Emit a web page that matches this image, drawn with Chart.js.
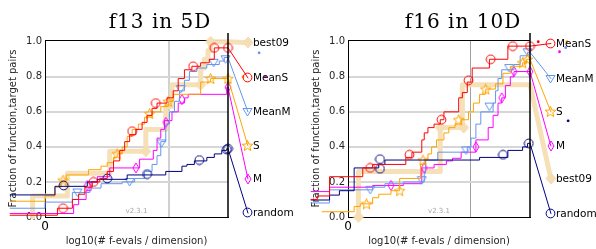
<!DOCTYPE html>
<html><head><meta charset="utf-8">
<script src="https://cdn.jsdelivr.net/npm/chart.js@4.4.1/dist/chart.umd.min.js"></script>
<style>
html,body{margin:0;padding:0;background:#fff;}
body{width:596px;height:249px;position:relative;overflow:hidden;}
canvas{position:absolute;top:0;}
.title{position:absolute;top:11px;font-family:'DejaVu Serif',serif;font-size:20px;line-height:20px;letter-spacing:1px;color:#000;white-space:nowrap;transform:translateX(-50%);}
</style></head><body>
<canvas id="c1" width="298" height="249" style="left:0"></canvas>
<canvas id="c2" width="298" height="249" style="left:298px"></canvas>
<div class="title" style="left:160px">f13 in 5D</div>
<div class="title" style="left:463px">f16 in 10D</div>
<script>
// ---------- shared axis data ----------
const seriesNames = ['best09','MeanS','MeanM','S','M','random'];
const yTickValues = [0,0.2,0.4,0.6,0.8,1.0];
const yTickLabels = ['0.0','0.2','0.4','0.6','0.8','1.0'];
const xTickValues = [0,1];
const xTickLabels = ['0',''];
const yTitle = 'Fraction of function,target pairs';
const xTitle = 'log10(# f-evals / dimension)';
const versionText = 'v2.3.1';

// ---------- f13 in 5D ----------
const f13_budget = 1.47;
const f13_labelX = 1.63;
const f13_labelY = [0.994, 0.794, 0.6, 0.406, 0.217, 0.023]; // best09, MeanS, MeanM, S, M, random
const f13_best09 = [[-0.1,0],[-0.1,0.12],[0.18,0.25],[0.52,0.375],[0.81,0.5],[0.97,0.63],[1.02,0.755],[1.25,0.85],[1.28,0.9],[1.31,0.95],[1.33,1.0],[1.47,1.0]];
const f13_best09_marks = [[0.81,0.375],[1.25,0.755],[1.33,1.0]];
const f13_MeanS = [[-0.28,0.01],[0.1,0.05],[0.22,0.1],[0.27,0.13],[0.32,0.17],[0.38,0.2],[0.44,0.22],[0.5,0.26],[0.55,0.32],[0.6,0.38],[0.64,0.43],[0.68,0.47],[0.73,0.5],[0.78,0.54],[0.82,0.58],[0.86,0.62],[0.9,0.65],[0.98,0.68],[1.03,0.72],[1.07,0.79],[1.12,0.84],[1.18,0.86],[1.25,0.88],[1.32,0.9],[1.36,0.965],[1.47,0.965]];
const f13_MeanS_marks = [[0.145,0.05],[0.39,0.2],[0.7,0.49],[0.89,0.65],[1.19,0.86],[1.36,0.965],[1.47,0.965]];
const f13_MeanM = [[-0.28,0.05],[0,0.085],[0.22,0.14],[0.36,0.165],[0.45,0.19],[0.62,0.2],[0.72,0.22],[0.8,0.26],[0.86,0.3],[0.9,0.35],[0.93,0.43],[0.97,0.53],[1.0,0.6],[1.04,0.66],[1.08,0.72],[1.12,0.78],[1.16,0.83],[1.22,0.85],[1.3,0.87],[1.4,0.89],[1.44,0.91],[1.47,0.91]];
const f13_MeanM_marks = [[0.26,0.14],[0.68,0.2],[0.935,0.42],[1.09,0.73],[1.355,0.88],[1.45,0.9]];
const f13_S = [[-0.28,0.09],[0,0.12],[0.08,0.17],[0.13,0.21],[0.17,0.24],[0.35,0.27],[0.45,0.29],[0.5,0.31],[0.55,0.34],[0.58,0.36],[0.62,0.4],[0.66,0.46],[0.7,0.5],[0.75,0.53],[0.8,0.57],[0.86,0.6],[0.93,0.63],[0.99,0.66],[1.03,0.7],[1.25,0.77],[1.33,0.79],[1.47,0.79]];
const f13_S_marks = [[0.145,0.21],[0.58,0.36],[0.84,0.59],[0.99,0.66],[1.33,0.79],[1.47,0.79]];
const f13_M = [[-0.28,0.02],[0.23,0.07],[0.27,0.1],[0.33,0.15],[0.37,0.2],[0.42,0.23],[0.52,0.28],[0.76,0.33],[0.87,0.38],[0.9,0.45],[0.93,0.5],[0.96,0.55],[1.02,0.6],[1.07,0.65],[1.12,0.68],[1.15,0.7],[1.46,0.74],[1.47,0.74]];
const f13_M_marks = [[0.34,0.18],[0.73,0.28],[0.97,0.54],[1.1,0.67],[1.47,0.74]];
const f13_random = [[-0.28,0.126],[0.08,0.175],[0.34,0.2],[0.42,0.215],[0.66,0.24],[0.97,0.26],[1.1,0.29],[1.14,0.3],[1.2,0.32],[1.3,0.34],[1.36,0.36],[1.42,0.38],[1.46,0.39],[1.47,0.39]];
const f13_random_marks = [[0.15,0.18],[0.5,0.22],[0.82,0.245],[1.24,0.325],[1.46,0.385],[1.47,0.39]];
const f13_dots = [['MeanS',1.63,0.994],['MeanM',1.72,0.937],['S',1.59,0.8],['M',1.77,0.8]];

// ---------- f16 in 10D ----------
const f16_budget = 1.48;
const f16_labelX = 1.65;
const f16_labelY = [0.217, 0.99, 0.79, 0.6, 0.405, 0.02]; // best09, MeanS, MeanM, S, M, random
const f16_best09 = [[0.085,0],[0.085,0.26],[0.75,0.51],[0.93,0.755],[1.48,0.755]];
const f16_best09_marks = [[0.085,0],[0.75,0.51],[0.94,0.51]];
const f16_MeanS = [[-0.3,0.1],[-0.25,0.12],[-0.15,0.23],[0.12,0.28],[0.2,0.3],[0.47,0.34],[0.52,0.37],[0.6,0.44],[0.62,0.48],[0.65,0.51],[0.7,0.53],[0.75,0.555],[0.78,0.6],[0.9,0.68],[0.93,0.71],[0.97,0.77],[1.01,0.85],[1.15,0.9],[1.3,0.975],[1.48,0.975]];
const f16_MeanS_marks = [[0.18,0.28],[0.5,0.355],[0.76,0.555],[0.98,0.78],[1.16,0.9],[1.34,0.975],[1.48,0.975]];
const f16_MeanM = [[-0.3,0.08],[-0.15,0.155],[0.2,0.17],[0.3,0.19],[0.45,0.2],[0.62,0.25],[0.63,0.325],[0.73,0.37],[0.97,0.4],[1.0,0.45],[1.04,0.53],[1.08,0.6],[1.18,0.65],[1.2,0.72],[1.22,0.79],[1.25,0.84],[1.35,0.87],[1.4,0.92],[1.46,0.94],[1.48,0.94]];
const f16_MeanM_marks = [[0.18,0.155],[0.6,0.21],[0.96,0.38],[1.15,0.63],[1.31,0.85],[1.46,0.94]];
const f16_S = [[-0.21,0.03],[0.05,0.06],[0.1,0.075],[0.2,0.11],[0.25,0.13],[0.35,0.15],[0.42,0.22],[0.59,0.3],[0.62,0.33],[0.65,0.36],[0.68,0.4],[0.72,0.44],[0.78,0.48],[0.82,0.51],[0.87,0.53],[0.92,0.555],[0.98,0.6],[1.02,0.65],[1.07,0.7],[1.12,0.73],[1.2,0.76],[1.26,0.82],[1.32,0.86],[1.42,0.88],[1.45,0.9],[1.48,0.9]];
const f16_S_marks = [[0.15,0.075],[0.42,0.15],[0.61,0.325],[0.9,0.555],[1.12,0.73],[1.42,0.88],[1.46,0.9]];
const f16_M = [[-0.3,0.145],[-0.15,0.17],[0.2,0.18],[0.45,0.19],[0.6,0.28],[0.7,0.3],[0.8,0.32],[0.85,0.335],[0.92,0.37],[1.04,0.44],[1.14,0.51],[1.18,0.58],[1.22,0.65],[1.25,0.68],[1.28,0.75],[1.32,0.8],[1.35,0.83],[1.48,0.83]];
const f16_M_marks = [[0.35,0.18],[0.62,0.28],[1.04,0.4],[1.25,0.68],[1.35,0.83],[1.48,0.83]];
const f16_random = [[-0.3,0.097],[-0.15,0.125],[-0.07,0.15],[0.05,0.28],[0.25,0.3],[0.3,0.325],[1.07,0.34],[1.3,0.38],[1.42,0.4],[1.46,0.42],[1.48,0.42]];
const f16_random_marks = [[0.26,0.33],[0.26,0.275],[1.26,0.355],[1.47,0.42]];
const f16_dots = [['MeanS',1.547,1.0],['S',1.78,1.0],['MeanM',1.77,0.966],['M',1.72,0.943],['random',1.79,0.549]];

// ---------- styles ----------
Chart.defaults.font.family = "'DejaVu Sans', sans-serif";
Chart.defaults.color = '#262626';
Chart.defaults.animation = false;

function mk(w, h, draw){ const c = document.createElement('canvas'); c.width = w; c.height = h; const g = c.getContext('2d'); draw(g, w, h); return c; }
function circleMarker(color){ return mk(11,11,g=>{ g.beginPath(); g.arc(5.5,5.5,4.4,0,Math.PI*2); g.strokeStyle=color; g.lineWidth=1; g.stroke(); }); }
function triMarker(color){ return mk(11,10,g=>{ g.beginPath(); g.moveTo(1,1.5); g.lineTo(10,1.5); g.lineTo(5.5,9); g.closePath(); g.strokeStyle=color; g.lineWidth=1; g.stroke(); }); }
function starMarker(color){ return mk(13,13,g=>{ g.beginPath(); for(let i=0;i<10;i++){ const r = i%2 ? 2.4 : 5.6; const a = -Math.PI/2 + i*Math.PI/5; g.lineTo(6.5 + r*Math.cos(a), 7 + r*Math.sin(a)); } g.closePath(); g.strokeStyle=color; g.lineWidth=1; g.stroke(); }); }
function diamondMarker(color, fill, w, h){ return mk(w,h,g=>{ g.beginPath(); g.moveTo(w/2,1); g.lineTo(w-1,h/2); g.lineTo(w/2,h-1); g.lineTo(1,h/2); g.closePath(); if(fill){ g.fillStyle=fill; g.fill(); } g.strokeStyle=color; g.lineWidth=1; g.stroke(); }); }

const STYLE = {
  best09: {color:'rgba(245,222,179,0.95)', width:5, marker: diamondMarker('#f5deb3','#f5deb3',12,13)},
  MeanS:  {color:'#ff0000', width:1, marker: circleMarker('#ff0000')},
  MeanM:  {color:'#6495ed', width:1, marker: triMarker('#6495ed')},
  S:      {color:'#ffa500', width:1, marker: starMarker('#ffa500')},
  M:      {color:'#ff00ff', width:1, marker: diamondMarker('#ff00ff',null,8,12)},
  random: {color:'#000080', width:1, marker: circleMarker('#000080')}
};
const drawOrder = ['MeanS','random','S','MeanM','M','best09']; // first = on top

const pt = a => a.map(([x,y]) => ({x, y}));

const annot = {
  id: 'annot',
  beforeDatasetsDraw(chart, args, opts){
    const {ctx, chartArea:a} = chart;
    ctx.save();
    ctx.strokeStyle = '#000'; ctx.lineWidth = 1;
    ctx.beginPath(); ctx.moveTo(a.left, a.top + 0.5); ctx.lineTo(a.right, a.top + 0.5); ctx.stroke();
    ctx.font = "7px 'DejaVu Sans'"; ctx.fillStyle = '#a8a8a8'; ctx.textAlign = 'center'; ctx.textBaseline = 'middle';
    ctx.fillText(versionText, (a.left + a.right)/2, a.bottom - 6);
    ctx.restore();
  },
  afterDatasetsDraw(chart, args, opts){
    const {ctx} = chart; const xs = chart.scales.x, ys = chart.scales.y;
    ctx.save();
    opts.dots.forEach(([name, x, y]) => {
      ctx.beginPath(); ctx.arc(xs.getPixelForValue(x), ys.getPixelForValue(y), 1.4, 0, Math.PI*2);
      ctx.fillStyle = STYLE[name].color; ctx.fill();
    });
    seriesNames.forEach((name, i) => {
      const px = xs.getPixelForValue(opts.labelX), py = ys.getPixelForValue(opts.labelY[i]);
      const m = STYLE[name].marker;
      ctx.drawImage(m, Math.round(px - m.width/2), Math.round(py - m.height/2));
      ctx.font = "10.5px 'DejaVu Sans'"; ctx.fillStyle = '#000'; ctx.textAlign = 'left'; ctx.textBaseline = 'middle';
      ctx.fillText(name, px + 5, py + 0.5);
    });
    ctx.restore();
  }
};

function buildChart(id, p){
  const datasets = [];
  drawOrder.forEach(name => {
    const st = STYLE[name];
    const steps = p.steps[name];
    const idx = seriesNames.indexOf(name);
    datasets.push({data: pt(p.marks[name]), showLine:false, pointStyle: st.marker, pointRadius: 4, clip:false});
    datasets.push({data: pt(steps), showLine:true, stepped:'before', borderColor: st.color, borderWidth: st.width, pointRadius:0, clip:false, fill:false, borderJoinStyle:'round', borderCapStyle: 'round'});
    datasets.push({data: pt([steps[steps.length-1], [p.labelX, p.labelY[idx]]]), showLine:true, borderColor: st.color, borderWidth: st.width, pointRadius:0, clip:false, fill:false, borderCapStyle:'round'});
  });
  datasets.unshift({data: pt([[p.budget,0],[p.budget,1.05]]), showLine:true, borderColor:'#000', borderWidth:1.5, pointRadius:0, clip:false});
  return new Chart(document.getElementById(id), {
    type: 'scatter',
    data: {datasets},
    options: {
      responsive:false, animation:false, events: [],
      layout: {padding: {left:0, top:40, right: 298 - p.areaRight, bottom:0}},
      plugins: {legend:{display:false}, tooltip:{enabled:false}, annot: {labelX: p.labelX, labelY: p.labelY, dots: p.dots}},
      scales: {
        x: {type:'linear', bounds:'data',
            afterDataLimits(s){ s.min = 0; s.max = p.budget; },
            afterBuildTicks(s){ s.ticks = xTickValues.map(v => ({value:v})); },
            afterFit(s){ s.height = 32; },
            ticks: {callback:(v,i) => xTickLabels[i], font:{size:12}, padding:3, maxRotation:0, autoSkip:false, color:'#000'},
            grid: {drawTicks:false, color: c => (c.tick && c.tick.value === 1) ? p.vGridColor : 'rgba(0,0,0,0)', lineWidth: p.vGridWidth},
            border: {color:'#000', width:1},
            title: {display:true, text:xTitle, font:{size:10}, color:'#262626', padding:{top:0, bottom:1.5}}},
        y: {type:'linear', min:0, max:1.01,
            afterBuildTicks(s){ s.ticks = yTickValues.map(v => ({value:v})); },
            afterFit(s){ s.width = p.areaLeft; },
            ticks: {callback:(v,i) => yTickLabels[i], font:{size:10}, padding:3, color:'#262626'},
            grid: {drawTicks:false, color: c => (c.tick && (c.tick.value === 0 || c.tick.value === 1)) ? 'rgba(0,0,0,0)' : '#d6d6d6', lineWidth:2},
            border: {color:'#000', width:1},
            title: {display:true, text:yTitle, font:{size:10}, color:'#262626', padding:{top:p.yTitlePad, bottom:0}}}
      }
    },
    plugins: [annot]
  });
}

buildChart('c1', {
  budget: f13_budget, labelX: f13_labelX, labelY: f13_labelY, dots: f13_dots,
  steps: {best09:f13_best09, MeanS:f13_MeanS, MeanM:f13_MeanM, S:f13_S, M:f13_M, random:f13_random},
  marks: {best09:f13_best09_marks, MeanS:f13_MeanS_marks, MeanM:f13_MeanM_marks, S:f13_S_marks, M:f13_M_marks, random:f13_random_marks},
  areaLeft:45, areaRight:228, vGridColor:'#d0d0d0', vGridWidth:2, yTitlePad:7
});
buildChart('c2', {
  budget: f16_budget, labelX: f16_labelX, labelY: f16_labelY, dots: f16_dots,
  steps: {best09:f16_best09, MeanS:f16_MeanS, MeanM:f16_MeanM, S:f16_S, M:f16_M, random:f16_random},
  marks: {best09:f16_best09_marks, MeanS:f16_MeanS_marks, MeanM:f16_MeanM_marks, S:f16_S_marks, M:f16_M_marks, random:f16_random_marks},
  areaLeft:50, areaRight:232, vGridColor:'#a0a0a0', vGridWidth:1, yTitlePad:12
});
</script>
</body></html>
